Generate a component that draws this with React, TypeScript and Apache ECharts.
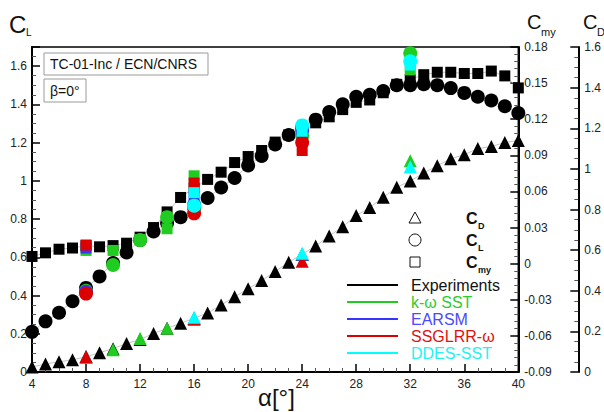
import React, { useEffect, useRef } from "react";
import * as echarts from "echarts";

// Experiments (alpha in degrees)
const expAlpha = [4, 5, 6, 7, 8, 9, 10, 11, 12, 13, 14, 15, 16, 17, 18, 19, 20, 21, 22, 23, 24, 25, 26, 27, 28, 29, 30, 31, 32, 33, 34, 35, 36, 37, 38, 39, 40];
const expCL = [0.21, 0.265, 0.31, 0.37, 0.44, 0.5, 0.57, 0.625, 0.69, 0.735, 0.78, 0.81, 0.86, 0.91, 0.965, 1.015, 1.08, 1.13, 1.19, 1.24, 1.28, 1.32, 1.36, 1.4, 1.44, 1.45, 1.47, 1.5, 1.5, 1.505, 1.5, 1.485, 1.46, 1.44, 1.42, 1.39, 1.355];
const expCmy = [0.006, 0.009, 0.012, 0.013, 0.015, 0.014, 0.015, 0.017, 0.022, 0.03, 0.043, 0.055, 0.063, 0.07, 0.076, 0.084, 0.089, 0.094, 0.101, 0.107, 0.112, 0.117, 0.122, 0.128, 0.134, 0.136, 0.142, 0.149, 0.153, 0.157, 0.159, 0.159, 0.158, 0.158, 0.16, 0.156, 0.146];
const expCD = [0.025, 0.04, 0.05, 0.06, 0.075, 0.095, 0.115, 0.14, 0.16, 0.19, 0.215, 0.24, 0.265, 0.29, 0.33, 0.37, 0.41, 0.45, 0.495, 0.54, 0.58, 0.62, 0.67, 0.715, 0.77, 0.81, 0.86, 0.91, 0.94, 0.98, 1.015, 1.05, 1.07, 1.1, 1.11, 1.13, 1.14];

// k-omega SST
const sstAlpha = [8, 10, 12, 14, 16, 24, 32];
const sstCL = [0.425, 0.56, 0.69, 0.81, 0.86, 1.235, 1.667];
const sstCmy = [0.011, 0.011, 0.02, 0.029, 0.073, 0.105, 0.161];
const sstCD = [0.075, 0.11, 0.165, 0.215, 0.265, 0.58, 1.04];

// EARSM
const earsmAlpha = [8, 16, 24];
const earsmCL = [0.42, 0.875, 1.265];
const earsmCmy = [0.013, 0.055, 0.108];
const earsmCD = [0.075, 0.265, 0.58];

// SSGLRR-omega
const ssgAlpha = [8, 16, 24];
const ssgCL = [0.41, 0.83, 1.2];
const ssgCmy = [0.0155, 0.067, 0.094];
const ssgCD = [0.075, 0.26, 0.545];

// DDES-SST
const ddesAlpha = [16, 24, 32];
const ddesCL = [0.87, 1.29, 1.625];
const ddesCmy = [0.059, 0.11, 0.165];
const ddesCD = [0.27, 0.585, 1.01];

const xTicks = [4, 8, 12, 16, 20, 24, 28, 32, 36, 40];

const models = [
  { name: "k-ω SST", color: "#1fcc1f", text: "#2ecc2e", a: sstAlpha, cl: sstCL, cmy: sstCmy, cd: sstCD },
  { name: "EARSM", color: "#3535ff", text: "#4a4aff", a: earsmAlpha, cl: earsmCL, cmy: earsmCmy, cd: earsmCD },
  { name: "SSGLRR-ω", color: "#dd0000", text: "#dd1111", a: ssgAlpha, cl: ssgCL, cmy: ssgCmy, cd: ssgCD },
  { name: "DDES-SST", color: "#00ffff", text: "#22f2f2", a: ddesAlpha, cl: ddesCL, cmy: ddesCmy, cd: ddesCD },
];

const FONT = "Liberation Sans, Arial, Helvetica, sans-serif";

const pair = (xs: number[], ys: number[]) => xs.map((x, i) => [x, ys[i]]);

const fmt = (v: number) => {
  if (Math.abs(v) < 1e-9) return "0";
  return String(+v.toFixed(2));
};

export default function App() {
  const ref = useRef<HTMLDivElement>(null);
  useEffect(() => {
    if (!ref.current) return;
    const chart = echarts.init(ref.current, null, { renderer: "svg" });

    const sym = { cd: "triangle", cl: "circle", cmy: "rect" };
    const size = { cd: 13, cl: 14, cmy: 11 };
    const axisIdx = { cl: 0, cmy: 1, cd: 2 };

    const series: any[] = [];
    (["cd", "cmy", "cl"] as const).forEach((k) => {
      const ys = k === "cd" ? expCD : k === "cl" ? expCL : expCmy;
      series.push({
        type: "line",
        name: "Experiments " + k,
        yAxisIndex: axisIdx[k],
        data: pair(expAlpha, ys),
        symbol: sym[k],
        symbolSize: size[k],
        itemStyle: { color: "#000" },
        lineStyle: { color: "#c4c4c4", width: 1 },
        z: 2,
      });
    });
    models.forEach((m, mi) => {
      (["cd", "cmy", "cl"] as const).forEach((k) => {
        series.push({
          type: "scatter",
          name: m.name + " " + k,
          yAxisIndex: axisIdx[k],
          data: pair(m.a, m[k]),
          symbol: sym[k],
          symbolSize: size[k],
          itemStyle: { color: m.color, opacity: 1 },
          z: 3 + mi,
        });
      });
    });

    const minor = (n: number) => ({ show: true, splitNumber: n, length: 4, lineStyle: { color: "#555", width: 1 } });
    const tickCommon = {
      axisLine: { show: true, lineStyle: { color: "#000", width: 2 } },
      axisTick: { show: true, inside: true, length: 8, lineStyle: { color: "#000", width: 1.5 } },
      splitLine: { show: false },
    };
    const labelBase = { color: "#222", fontFamily: FONT, fontSize: 12 };

    const legendY0 = 285;
    const legendDy = 17;
    const graphic: any[] = [
      { type: "text", x: 9, y: 24, style: { text: "C", font: `24px ${FONT}`, fill: "#111", verticalAlign: "middle" } },
      { type: "text", x: 26, y: 32, style: { text: "L", font: `10px ${FONT}`, fill: "#111", verticalAlign: "middle" } },
      { type: "text", x: 527, y: 22, style: { text: "C", font: `20px ${FONT}`, fill: "#111", verticalAlign: "middle" } },
      { type: "text", x: 541, y: 32, style: { text: "my", font: `11px ${FONT}`, fill: "#111", verticalAlign: "middle" } },
      { type: "text", x: 583, y: 22, style: { text: "C", font: `20px ${FONT}`, fill: "#111", verticalAlign: "middle" } },
      { type: "text", x: 597, y: 32, style: { text: "D", font: `11px ${FONT}`, fill: "#111", verticalAlign: "middle" } },
      { type: "text", x: 258, y: 397, style: { text: "α[°]", font: `24px ${FONT}`, fill: "#111", verticalAlign: "middle" } },
      { type: "rect", shape: { x: 44, y: 53, width: 164, height: 22 }, style: { fill: "#fff", stroke: "#9a9a9a", lineWidth: 1 }, z: 10 },
      { type: "text", x: 50, y: 64, style: { text: "TC-01-Inc / ECN/CNRS", font: `14px ${FONT}`, fill: "#111", verticalAlign: "middle" }, z: 11 },
      { type: "rect", shape: { x: 44, y: 79, width: 42, height: 23 }, style: { fill: "#fff", stroke: "#9a9a9a", lineWidth: 1 }, z: 10 },
      { type: "text", x: 50, y: 91, style: { text: "β=0°", font: `14px ${FONT}`, fill: "#111", verticalAlign: "middle" }, z: 11 },
      { type: "polygon", shape: { points: [[415, 212], [421, 223], [409, 223]] }, style: { fill: "none", stroke: "#111", lineWidth: 1 }, z: 10 },
      { type: "circle", shape: { cx: 415, cy: 240, r: 6 }, style: { fill: "none", stroke: "#111", lineWidth: 1 }, z: 10 },
      { type: "rect", shape: { x: 410, y: 257, width: 10, height: 10 }, style: { fill: "none", stroke: "#111", lineWidth: 1 }, z: 10 },
      { type: "text", x: 466, y: 218, style: { text: "C", font: `bold 16px ${FONT}`, fill: "#111", verticalAlign: "middle" }, z: 10 },
      { type: "text", x: 478, y: 226, style: { text: "D", font: `bold 9px ${FONT}`, fill: "#111", verticalAlign: "middle" }, z: 10 },
      { type: "text", x: 466, y: 240, style: { text: "C", font: `bold 16px ${FONT}`, fill: "#111", verticalAlign: "middle" }, z: 10 },
      { type: "text", x: 478, y: 248, style: { text: "L", font: `bold 9px ${FONT}`, fill: "#111", verticalAlign: "middle" }, z: 10 },
      { type: "text", x: 466, y: 262, style: { text: "C", font: `bold 16px ${FONT}`, fill: "#111", verticalAlign: "middle" }, z: 10 },
      { type: "text", x: 478, y: 270, style: { text: "my", font: `bold 9px ${FONT}`, fill: "#111", verticalAlign: "middle" }, z: 10 },
    ];
    const lineLegend = [{ name: "Experiments", color: "#000", text: "#111" }, ...models];
    lineLegend.forEach((m, i) => {
      const y = legendY0 + i * legendDy;
      graphic.push({ type: "line", shape: { x1: 347, y1: y, x2: 398, y2: y }, style: { stroke: m.color, lineWidth: 2 }, z: 10 });
      graphic.push({ type: "text", x: 411, y, style: { text: m.name, font: `16px ${FONT}`, fill: m.text, verticalAlign: "middle" }, z: 10 });
    });

    chart.setOption({
      animation: false,
      backgroundColor: "#fff",
      grid: { left: 32, right: 82, top: 47, bottom: 40, show: true, borderColor: "#000", borderWidth: 1.5, backgroundColor: "transparent" },
      xAxis: {
        type: "value",
        min: xTicks[0],
        max: xTicks[xTicks.length - 1],
        interval: 4,
        ...tickCommon,
        minorTick: minor(4),
        axisLabel: { ...labelBase, margin: 6 },
      },
      yAxis: [
        {
          type: "value",
          position: "left",
          min: 0,
          max: 1.7,
          interval: 0.2,
          ...tickCommon,
          minorTick: minor(4),
          axisLabel: { ...labelBase, margin: 5, formatter: (v: number) => (v > 1.65 ? "" : fmt(v)) },
        },
        {
          type: "value",
          position: "right",
          min: -0.09,
          max: 0.18,
          interval: 0.03,
          ...tickCommon,
          minorTick: minor(5),
          axisLabel: { ...labelBase, margin: 6, formatter: fmt },
        },
        {
          type: "value",
          position: "right",
          offset: 60,
          min: 0,
          max: 1.6,
          interval: 0.2,
          ...tickCommon,
          minorTick: minor(4),
          axisLabel: { ...labelBase, margin: 6, formatter: fmt },
        },
      ],
      series,
      graphic,
    });
    return () => chart.dispose();
  }, []);
  return <div ref={ref} style={{ position: "absolute", left: 0, top: 0, width: 604, height: 412 }} />;
}
